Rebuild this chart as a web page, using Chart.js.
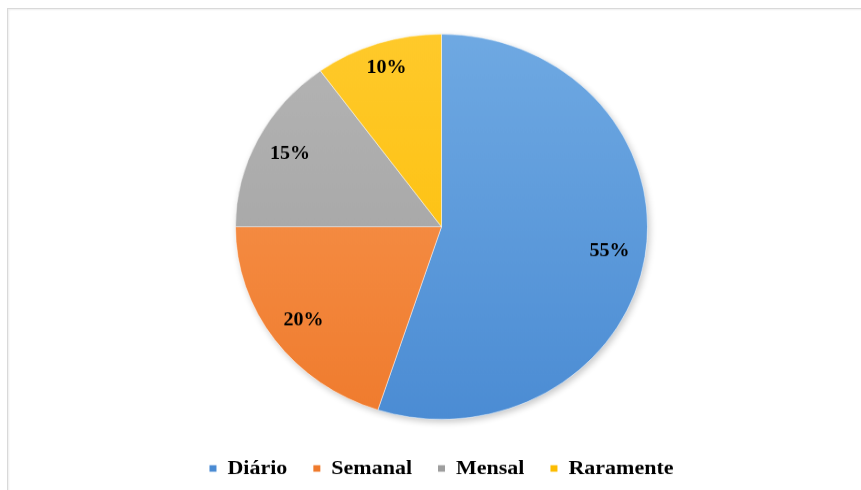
<!DOCTYPE html>
<html>
<head>
<meta charset="utf-8">
<script src="https://cdn.jsdelivr.net/npm/chart.js@4.4.0/dist/chart.umd.min.js"></script>
<style>
    body { margin: 0; background: #fff; overflow: hidden; }
    .frame {
        position: absolute; left: 7px; top: 8px; width: 900px; height: 600px;
        border: 1px solid #d9d9d9; box-shadow: inset 1px 1px 2px #eeeeee;
    }
    /* the chart is drawn round, then squeezed a bit vertically */
    #chart-box { position: absolute; left: 0; top: 0; transform: scaleY(0.935); transform-origin: 0 0; }
</style>
</head>
<body>
<div class="frame"></div>
<div id="chart-box"><canvas id="freqChart" width="861" height="530"></canvas></div>
<script>
const categories = ['Diário', 'Semanal', 'Mensal', 'Raramente'];
const percentages = [55, 20, 15, 10];

// top / bottom shade of each slice
const colorsTop = ['#70aae3', '#f99a55', '#b5b5b5', '#ffca2c'];
const colorsBottom = ['#4a8bd3', '#ef7a2c', '#9e9e9e', '#fcbc00'];

function sliceFill(context) {
    const chart = context.chart;
    const area = chart.chartArea;
    const i = context.dataIndex;
    if (!area) return colorsBottom[i];
    const g = chart.ctx.createLinearGradient(0, area.top, 0, area.bottom);
    g.addColorStop(0, colorsTop[i]);
    g.addColorStop(1, colorsBottom[i]);
    return g;
}

// soft shadow under the whole pie
const pieShadow = {
    id: 'pieShadow',
    beforeDatasetsDraw(chart) {
        const arc = chart.getDatasetMeta(0).data[0];
        if (!arc) return;
        const p = arc.getProps(['x', 'y', 'outerRadius'], true);
        const ctx = chart.ctx;
        ctx.save();
        ctx.shadowColor = 'rgba(0,0,0,0.22)';
        ctx.shadowBlur = 7;
        ctx.shadowOffsetX = 2;
        ctx.shadowOffsetY = 3;
        ctx.fillStyle = '#ffffff';
        ctx.beginPath();
        ctx.arc(p.x, p.y, p.outerRadius, 0, Math.PI * 2);
        ctx.fill();
        ctx.restore();
    }
};

// percentage text inside each slice, near the rim
const sliceLabels = {
    id: 'sliceLabels',
    afterDatasetsDraw(chart) {
        const ctx = chart.ctx;
        const meta = chart.getDatasetMeta(0);
        ctx.save();
        ctx.font = 'bold 20px "Liberation Serif"';
        ctx.fillStyle = '#000';
        ctx.textAlign = 'center';
        ctx.textBaseline = 'middle';
        meta.data.forEach((arc, i) => {
            const p = arc.getProps(['x', 'y', 'startAngle', 'endAngle', 'outerRadius'], true);
            const mid = (p.startAngle + p.endAngle) / 2;
            const text = percentages[i] + '%';
            const w = ctx.measureText(text).width;
            const h = 14;
            const cos = Math.cos(mid);
            const sin = Math.sin(mid);
            const d = p.outerRadius - 15 - (w / 2 * Math.abs(cos) + h / 2 * Math.abs(sin));
            ctx.fillText(text, p.x + cos * d, p.y + sin * d);
        });
        ctx.restore();
    }
};

new Chart(document.getElementById('freqChart'), {
    type: 'pie',
    data: {
        labels: categories,
        datasets: [{
            data: percentages,
            backgroundColor: sliceFill,
            borderColor: 'rgba(255,255,255,0.45)',
            borderWidth: 1
        }]
    },
    options: {
        responsive: false,
        animation: false,
        radius: 206,
        layout: { padding: { left: 22, top: 21, right: 0, bottom: 8 } },
        plugins: {
            legend: {
                position: 'bottom',
                labels: {
                    boxWidth: 7,
                    boxHeight: 7,
                    padding: 26,
                    color: '#000',
                    font: { family: 'Liberation Serif', size: 22, weight: 'bold' },
                    generateLabels(chart) {
                        return categories.map((name, i) => ({
                            text: name,
                            fillStyle: colorsBottom[i],
                            strokeStyle: colorsBottom[i],
                            lineWidth: 0,
                            index: i
                        }));
                    }
                }
            },
            tooltip: { enabled: false }
        }
    },
    plugins: [pieShadow, sliceLabels]
});
</script>
</body>
</html>
